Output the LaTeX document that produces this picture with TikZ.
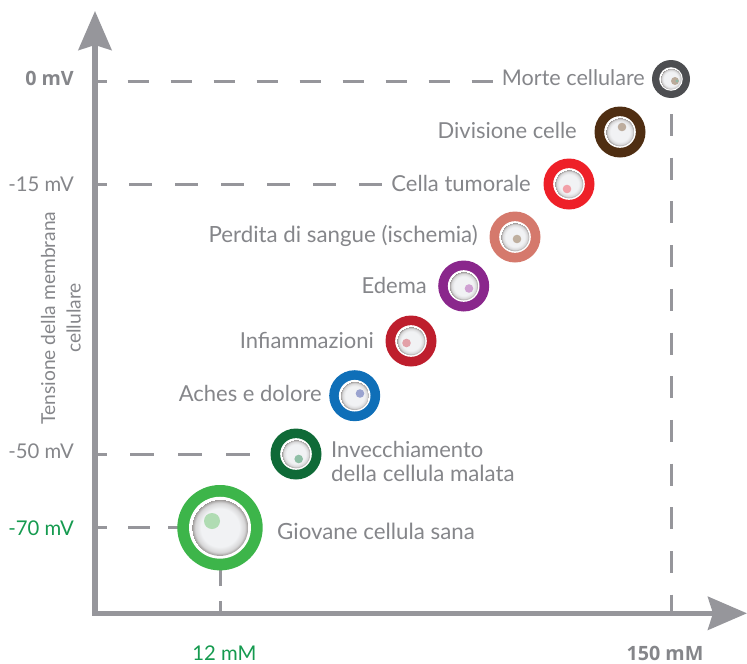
\documentclass[tikz,border=0pt]{standalone}
\usepackage{fontspec}
\setmainfont{Lato}
\newfontfamily\boldface{Open Sans}
\usetikzlibrary{arrows.meta}
\definecolor{axisgray}{HTML}{96969B}
\definecolor{labelgray}{HTML}{85868A}
\definecolor{valuegreen}{HTML}{159A4F}
\definecolor{cellcore}{HTML}{F1F2F4}
\definecolor{celledge}{HTML}{9B9796}
\definecolor{rGiov}{HTML}{3DB54A}  \definecolor{dGiov}{HTML}{B0DCB3}
\definecolor{rInv}{HTML}{0F6A37}   \definecolor{dInv}{HTML}{8FBFA6}
\definecolor{rAch}{HTML}{0F6FB8}   \definecolor{dAch}{HTML}{9AA3CF}
\definecolor{rInf}{HTML}{BE1E2D}   \definecolor{dInf}{HTML}{E3A0A8}
\definecolor{rEde}{HTML}{8A278C}   \definecolor{dEde}{HTML}{CFA0D2}
\definecolor{rPer}{HTML}{D5796C}   \definecolor{dPer}{HTML}{BFAF9F}
\definecolor{rTum}{HTML}{EE2028}   \definecolor{dTum}{HTML}{F2A0A8}
\definecolor{rDiv}{HTML}{4F2E12}   \definecolor{dDiv}{HTML}{BDAD9E}
\definecolor{rMor}{HTML}{4D4E51}   \definecolor{dMor}{HTML}{BBAB9B}
\definecolor{dMorC}{HTML}{8FB8A6}
\pgfdeclareradialshading{cellshade}{\pgfpointorigin}{color(0bp)=(cellcore);color(17bp)=(cellcore);color(22bp)=(cellcore!70!celledge);color(25bp)=(celledge)}
\tikzset{
  axisline/.style={draw=axisgray,line width=5.3pt,line cap=rect,-{Stealth[length=39pt,width=33pt,inset=5pt]}},
  guide/.style={draw=axisgray,line width=3pt},
  ticklet/.style={draw=axisgray,line width=3pt},
  lbl/.style={text=labelgray,font=\fontsize{22}{24}\selectfont,inner sep=0pt},
  lblwide/.style={lbl,font=\fontsize{22.3}{24}\selectfont},
  lblnarrow/.style={lbl,font=\fontsize{21.6}{24}\selectfont},
  axval/.style={text=labelgray,font=\fontsize{20.3}{22}\selectfont,inner sep=0pt,anchor=base},
  axbold/.style={text=labelgray,font=\boldface\bfseries\fontsize{19.7}{22}\selectfont,inner sep=0pt,anchor=base},
  ring/.style={circle,inner sep=0pt,minimum size=#1,draw=none},
}
\newcommand{\whitek}{0.62}
\newcommand{\corek}{0.56}
% #1 name, #2 x, #3 y, #4 outer radius, #5 ring colour, #6 dot x, #7 dot y, #8 dot radius, #9 dot colour
\newcommand{\cellmark}[9]{%
  \node[ring=2*#4 pt,fill=#5] (#1) at (#2,#3) {};
  \fill[white] (#2,#3) circle[radius=#4*\whitek];
  \shade[shading=cellshade] (#2,#3) circle[radius=#4*\corek];
  \fill[#9] (#6,#7) circle[radius=#8];
}
\begin{document}
\begin{tikzpicture}[x=1pt,y=-1pt]
\useasboundingbox (0,0) rectangle (747,664);
\coordinate (orig) at (95,613.3);
\coordinate (ytip) at (95,11);
\coordinate (xtip) at (747,613.3);
\coordinate (a0) at (95,81);     \coordinate (b0) at (107,81);
\coordinate (c0) at (127.7,81);  \coordinate (d0) at (493.4,81);
\coordinate (a1) at (95,184.5);  \coordinate (b1) at (107,184.5);
\coordinate (c1) at (129,184.5); \coordinate (d1) at (382,184.5);
\coordinate (a2) at (95,454);    \coordinate (b2) at (107,454);
\coordinate (c2) at (130,454);   \coordinate (d2) at (250,454);
\coordinate (a3) at (95,527.5);  \coordinate (b3) at (107,527.5);
\coordinate (c3) at (128,527.5); \coordinate (d3) at (180,527.5);
\coordinate (e1) at (220,613.3); \coordinate (f1) at (220,601);
\coordinate (g1) at (220,586);   \coordinate (h1) at (220,565);
\coordinate (e2) at (671.5,613.3); \coordinate (g2) at (671.5,114);

\draw[ticklet] (a0) -- (b0);
\draw[ticklet] (a1) -- (b1);
\draw[ticklet] (a2) -- (b2);
\draw[ticklet] (a3) -- (b3);
\draw[guide,dash pattern=on 21.7pt off 21.3pt] (c0) -- (d0);
\draw[guide,dash pattern=on 23pt off 23pt] (c1) -- (d1);
\draw[guide,dash pattern=on 24pt off 24pt] (c2) -- (d2);
\draw[guide,dash pattern=on 22pt off 18pt] (c3) -- (d3);
\draw[ticklet] (e1) -- (f1);
\draw[ticklet] (g1) -- (h1);
\draw[guide,dash pattern=on 22pt off 21.7pt] (g2) -- (e2);

\draw[axisline] (orig) -- (ytip);
\draw[axisline] (orig) -- (xtip);

\begingroup
\renewcommand{\whitek}{0.725}\renewcommand{\corek}{0.66}
\cellmark{cGiov}{220}{527.7}{42.7}{rGiov}{212}{521}{8}{dGiov}
\endgroup
\cellmark{cInv}{296}{454}{25.5}{rInv}{298.7}{459}{4.3}{dInv}
\cellmark{cAch}{354.7}{395.7}{25.5}{rAch}{360}{393.5}{4.3}{dAch}
\cellmark{cInf}{411}{341}{25.5}{rInf}{406.5}{343}{4.3}{dInf}
\cellmark{cEde}{463.7}{286}{25.5}{rEde}{469}{288.5}{4.3}{dEde}
\cellmark{cPer}{515}{237}{25.5}{rPer}{517}{239}{4.3}{dPer}
\cellmark{cTum}{569}{184}{25.5}{rTum}{567}{189}{4.3}{dTum}
\cellmark{cDiv}{620}{132}{25.5}{rDiv}{622}{127}{4.3}{dDiv}
\cellmark{cMor}{671}{79}{19}{rMor}{675}{81}{4}{dMor}
\fill[dMorC] (677,81) circle[radius=1.6];

\node[lblnarrow,anchor=base east] (lMor) at (645,85.5) {Morte cellulare};
\node[lbl,anchor=base east] (lDiv) at (577,138.5) {Divisione celle};
\node[lbl,anchor=base east] (lTum) at (531,191.5) {Cella tumorale};
\node[lblwide,anchor=base east] (lPer) at (478,242.5) {Perdita di sangue (ischemia)};
\node[lbl,anchor=base east] (lEde) at (427,293.5) {Edema};
\node[lbl,anchor=base east] (lInf) at (374,348.5) {Infiammazioni};
\node[lbl,anchor=base east] (lAch) at (322,401.5) {Aches e dolore};
\node[lbl,anchor=base west] (lInv) at (331,457.5) {Invecchiamento};
\node[lblwide,anchor=base west] (lInv2) at (331,481.5) {della cellula malata};
\node[lblwide,anchor=base west] (lGio) at (277,539.5) {Giovane cellula sana};

\node[axbold,anchor=base east] (v0) at (74,85) {0 mV};
\node[axval,anchor=base east] (v15) at (74,191) {-15 mV};
\node[axval,anchor=base east] (v50) at (74,458) {-50 mV};
\node[axval,anchor=base east,text=valuegreen] (v70) at (74,535) {-70 mV};
\node[axval,text=valuegreen] (x12) at (224.5,660.5) {12 mM};
\node[axbold] (x150) at (665,660.5) {150 mM};

\node[lbl,font=\fontsize{19.2}{25.5}\selectfont,align=center,rotate=90] (ylab) at (61,318) {Tensione della membrana\\cellulare};
\end{tikzpicture}
\end{document}
